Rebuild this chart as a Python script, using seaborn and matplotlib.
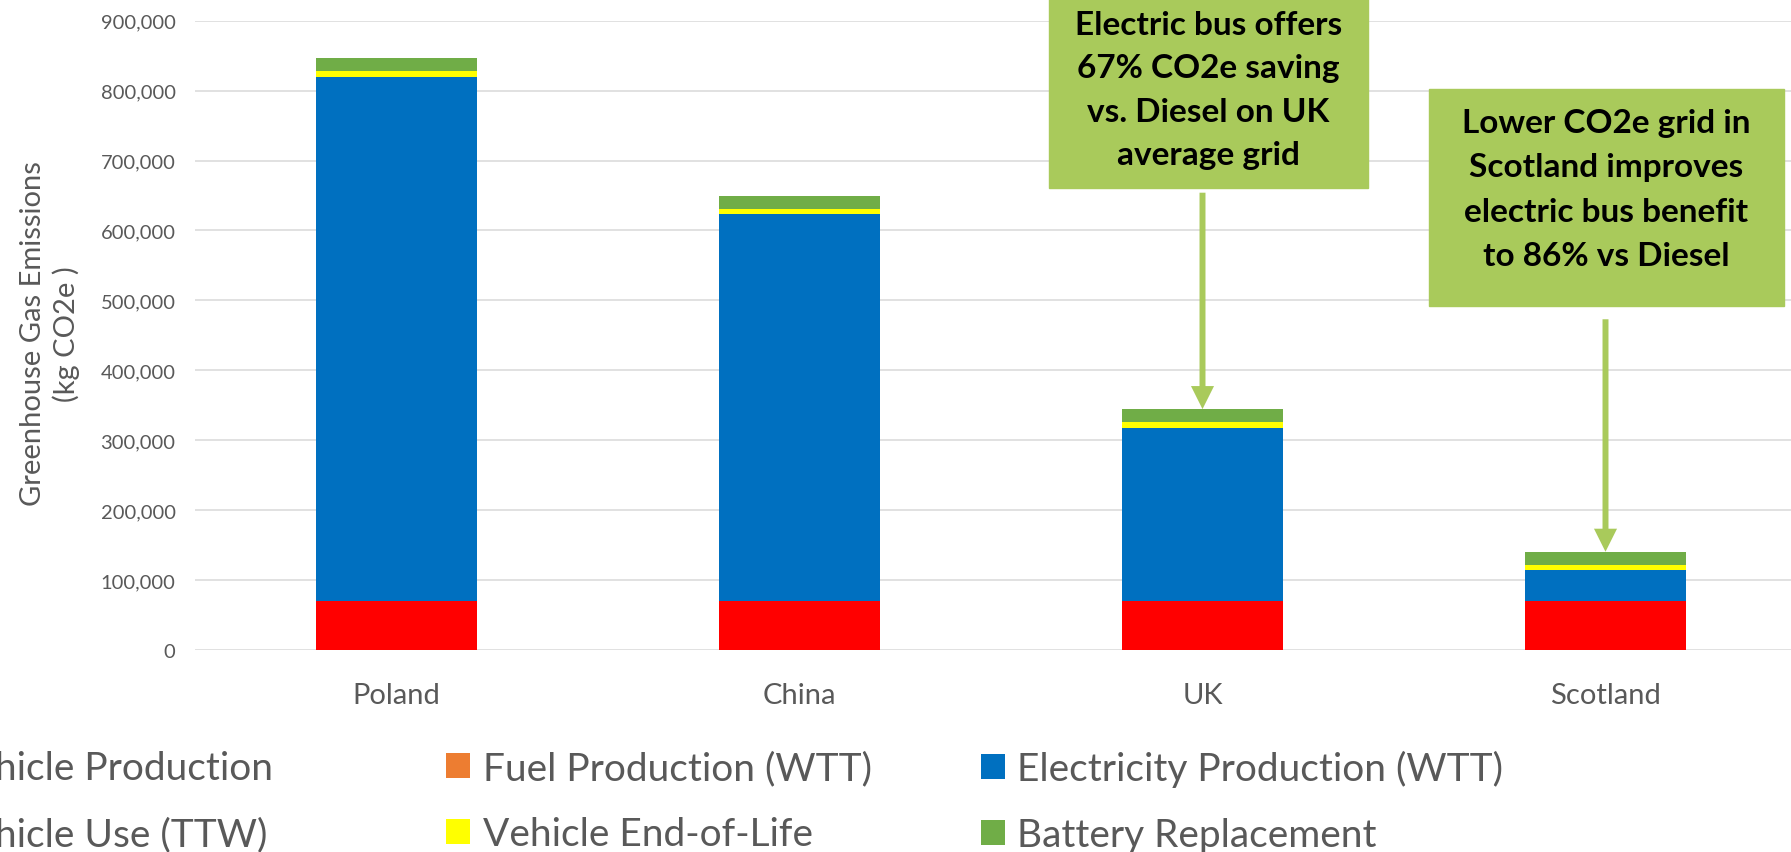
import matplotlib
matplotlib.use('Agg')
import matplotlib.pyplot as plt
import seaborn as sns
import numpy as np
from matplotlib.patches import Patch, Rectangle, ArrowStyle
from matplotlib.ticker import FuncFormatter

# ---------------- data ----------------
countries = ['Poland', 'China', 'UK', 'Scotland']
series_names = ['Vehicle Production', 'Fuel Production (WTT)',
                'Electricity Production (WTT)', 'Vehicle Use (TTW)',
                'Vehicle End-of-Life', 'Battery Replacement']
vehicle_production = [70000, 70000, 70000, 70000]
fuel_production = [0, 0, 0, 0]
electricity_production = [750000, 553000, 248000, 44000]
vehicle_use = [0, 0, 0, 0]
end_of_life = [7500, 7500, 7500, 7500]
battery_replacement = [19000, 19000, 19000, 19000]
y_ticks = [0, 100000, 200000, 300000, 400000, 500000, 600000, 700000, 800000, 900000]
note_uk = 'Electric bus offers\n67% CO2e saving\nvs. Diesel on UK\naverage grid'
note_scot = 'Lower CO2e grid in\nScotland improves\nelectric bus benefit\nto 86% vs Diesel'

colors = ['#FF0000', '#ED7D31', '#0070C0', '#A5A5A5', '#FFFF00', '#70AD47']
callout = '#A9CA5B'
txt_gray = '#595959'

sns.set_theme(style='white')
plt.rcParams['font.family'] = ['Lato', 'DejaVu Sans']

W, H = 1791, 853
fig = plt.figure(figsize=(W / 100, H / 100), dpi=100)
ax = fig.add_axes([195 / W, 1 - 651 / H, 1612 / W, (651 - 21.7) / H])

layers = np.array([vehicle_production, fuel_production, electricity_production,
                   vehicle_use, end_of_life, battery_replacement], dtype=float)
cum = np.cumsum(layers, axis=0)
for i in reversed(range(len(series_names))):
    sns.barplot(x=countries, y=cum[i], order=countries, color=colors[i],
                width=0.4, saturation=1, errorbar=None, linewidth=0, ax=ax)

ax.set_xlim(-0.5, 3.5)
ax.set_ylim(0, 900000)
ax.set_yticks(y_ticks)
ax.yaxis.set_major_formatter(FuncFormatter(lambda v, p: f'{int(v):,}'))
ax.grid(axis='y', color='#D9D9D9', lw=1.1)
ax.set_axisbelow(True)
for s in ax.spines.values():
    s.set_visible(False)
ax.tick_params(axis='y', length=0, labelsize=14.5, labelcolor=txt_gray, pad=14)
ax.tick_params(axis='x', length=0, labelsize=21, labelcolor=txt_gray, pad=23)
ax.set_xlabel('')
ax.set_ylabel('')

fig.text(50 / W, 1 - 334 / H, 'Greenhouse Gas Emissions\n(kg CO2e )', rotation=90,
         ha='center', va='center', multialignment='center', fontsize=21,
         color=txt_gray, linespacing=1.25)

# ---------------- callouts ----------------
fig.patches.append(Rectangle((1048.6 / W, 1 - 189 / H), (1368 - 1048.6) / W, 200 / H,
                             transform=fig.transFigure, color=callout, zorder=5))
fig.patches.append(Rectangle((1429 / W, 1 - 307 / H), (1784 - 1429) / W, (307 - 90) / H,
                             transform=fig.transFigure, color=callout, zorder=5))
fig.text(1208.5 / W, 1 - 90.5 / H, note_uk, ha='center', va='center',
         fontsize=24, fontweight='bold', color='black', linespacing=1.6, zorder=6)
fig.text(1606.5 / W, 1 - 190 / H, note_scot, ha='center', va='center',
         fontsize=24, fontweight='bold', color='black', linespacing=1.63, zorder=6)

arrow_style = ArrowStyle.Simple(head_length=1.66, head_width=1.66, tail_width=0.43)
totals = cum[-1]
ax.annotate('', xy=(2, totals[2]), xytext=(2, 654000),
            arrowprops=dict(arrowstyle=arrow_style, fc=callout, ec='none',
                            shrinkA=0, shrinkB=0, mutation_scale=10))
ax.annotate('', xy=(3, totals[3]), xytext=(3, 473000),
            arrowprops=dict(arrowstyle=arrow_style, fc=callout, ec='none',
                            shrinkA=0, shrinkB=0, mutation_scale=10))

# ---------------- legend (3 columns, cropped at the left) ----------------
handles = [Patch(facecolor=c, edgecolor='none') for c in colors]
fs = 28
col_x = [-88.5, 446, 980.5]
cols = [[0, 3], [1, 4], [2, 5]]
for cx, idx in zip(col_x, cols):
    fig.legend([handles[i] for i in idx], [series_names[i] for i in idx],
               loc='upper left', bbox_to_anchor=(cx / W, 1 - 751 / H),
               bbox_transform=fig.transFigure, frameon=False, fontsize=fs,
               labelcolor=txt_gray, handlelength=0.62, handleheight=0.62,
               handletextpad=0.33, labelspacing=0.77, borderpad=0, borderaxespad=0)

fig.savefig('out.png', dpi=100)
